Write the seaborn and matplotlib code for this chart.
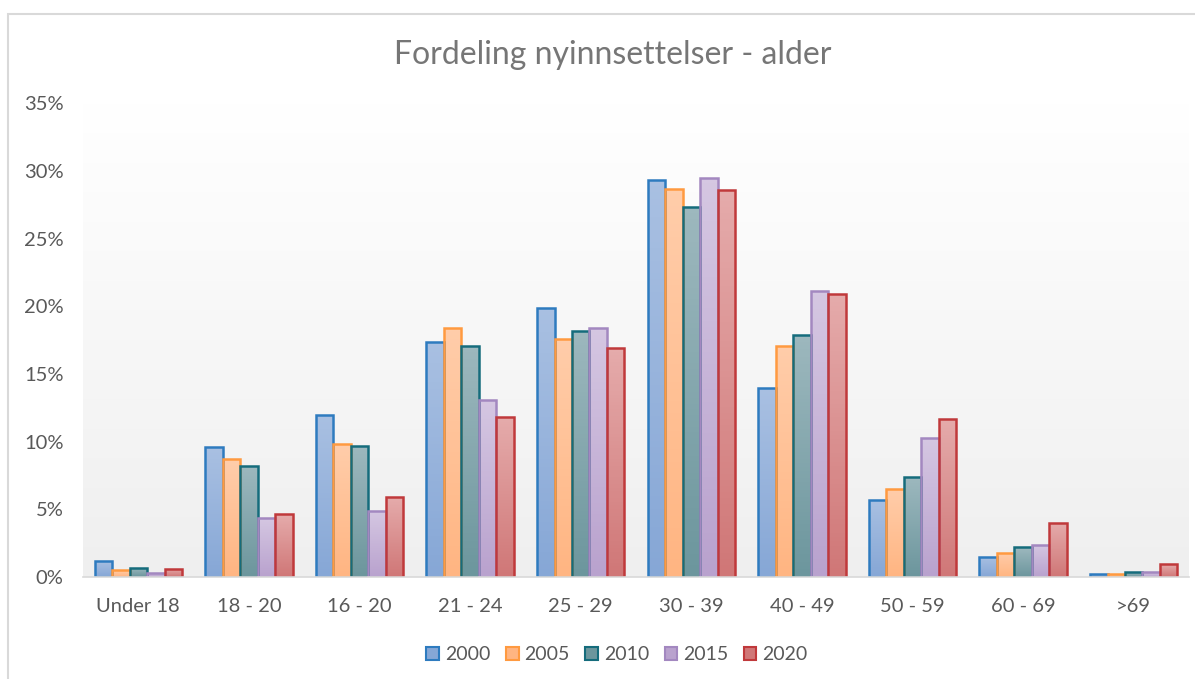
import numpy as np
import pandas as pd
import seaborn as sns
import matplotlib.pyplot as plt
from matplotlib.patches import Patch, Rectangle
from matplotlib.colors import LinearSegmentedColormap
from matplotlib.ticker import FuncFormatter

#%% Data (percent)
categories = ["Under 18", "18 - 20", "16 - 20", "21 - 24", "25 - 29",
              "30 - 39", "40 - 49", "50 - 59", "60 - 69", ">69"]
years = ["2000", "2005", "2010", "2015", "2020"]

share_2000 = [1.2, 9.6, 12.0, 17.4, 19.9, 29.3, 14.0, 5.7, 1.5, 0.2]
share_2005 = [0.5, 8.7, 9.8, 18.4, 17.6, 28.7, 17.1, 6.5, 1.8, 0.2]
share_2010 = [0.7, 8.2, 9.7, 17.1, 18.2, 27.3, 17.9, 7.4, 2.2, 0.35]
share_2015 = [0.3, 4.4, 4.9, 13.1, 18.4, 29.5, 21.1, 10.3, 2.4, 0.35]
share_2020 = [0.6, 4.65, 5.9, 11.8, 16.9, 28.6, 20.9, 11.7, 4.0, 0.95]

shares = [share_2000, share_2005, share_2010, share_2015, share_2020]

# bar gradient colours (top, bottom) and outline per year
top_colors = ["#a9c0e2", "#ffcdaa", "#9db8be", "#d5c7e2", "#e5abab"]
bottom_colors = ["#86a7d6", "#ffb582", "#6c969d", "#b9a2ce", "#d07777"]
edge_colors = ["#2e7bbf", "#ff9a40", "#156c7c", "#a388c0", "#c0393b"]
text_color = "#595959"

rows = []
for year, vals in zip(years, shares):
    for cat, v in zip(categories, vals):
        rows.append([cat, year, v])
df = pd.DataFrame(rows, columns=["Alder", "Aar", "Andel"])

#%% Plot
sns.set_style("white")
plt.rcParams["font.family"] = ["Lato", "DejaVu Sans"]

fig = plt.figure(figsize=(11.95, 6.79), dpi=100)
ax = fig.add_axes([0.0695, 0.150, 0.9255, 0.698])

sns.barplot(data=df, x="Alder", y="Andel", hue="Aar", order=categories,
            hue_order=years, palette=bottom_colors, saturation=1,
            width=0.79, legend=False, ax=ax)

# gradient background of the plot area
bg = LinearSegmentedColormap.from_list("bg", ["#ffffff", "#efefef"])
ax.imshow(np.linspace(0, 1, 256).reshape(-1, 1), extent=[-0.5, 9.5, 0, 35],
          aspect="auto", cmap=bg, origin="upper", zorder=0)

# gradient fill inside each bar
grad = np.linspace(0, 1, 64).reshape(-1, 1)
for i, cont in enumerate(ax.containers):
    cmap = LinearSegmentedColormap.from_list("b%d" % i, [top_colors[i], bottom_colors[i]])
    for bar in cont:
        x0, w, h = bar.get_x(), bar.get_width(), bar.get_height()
        im = ax.imshow(grad, extent=[x0, x0 + w, 0, h], aspect="auto",
                       cmap=cmap, origin="upper", zorder=2)
        im.set_clip_path(bar)
        bar.set_facecolor("none")
        bar.set_edgecolor(edge_colors[i])
        bar.set_linewidth(1.8)
        bar.set_zorder(3)

ax.set_xlim(-0.5, 9.5)
ax.set_ylim(0, 35)
ax.set_yticks(range(0, 36, 5))
ax.yaxis.set_major_formatter(FuncFormatter(lambda v, p: "%d%%" % v))
ax.set_xlabel("")
ax.set_ylabel("")
ax.tick_params(axis="both", length=0, labelsize=14.5, labelcolor=text_color)
ax.tick_params(axis="y", pad=14)
ax.tick_params(axis="x", pad=15)

for s in ["top", "right", "left"]:
    ax.spines[s].set_visible(False)
ax.spines["bottom"].set_color("#d9d9d9")
ax.spines["bottom"].set_linewidth(1.2)
ax.spines["bottom"].set_zorder(4)

fig.text(613 / 1195, 1 - 55 / 679, "Fordeling nyinnsettelser - alder",
         ha="center", va="center", fontsize=23, color="#767676")

handles = [Patch(facecolor=bottom_colors[i], edgecolor=edge_colors[i], lw=1.5, label=y)
           for i, y in enumerate(years)]
fig.legend(handles=handles, loc="center", bbox_to_anchor=(617 / 1195, 1 - 655 / 679),
           ncol=5, frameon=False, fontsize=14, handlelength=0.65, handleheight=0.65,
           columnspacing=0.8, handletextpad=0.3, labelcolor=text_color)

# chart border
fig.patches.append(Rectangle((8 / 1195, -0.1), 1.2, 1.1 - 14 / 679,
                             transform=fig.transFigure, fill=False,
                             edgecolor="#d9d9d9", lw=1.5))

plt.savefig("out.png", dpi=100)
